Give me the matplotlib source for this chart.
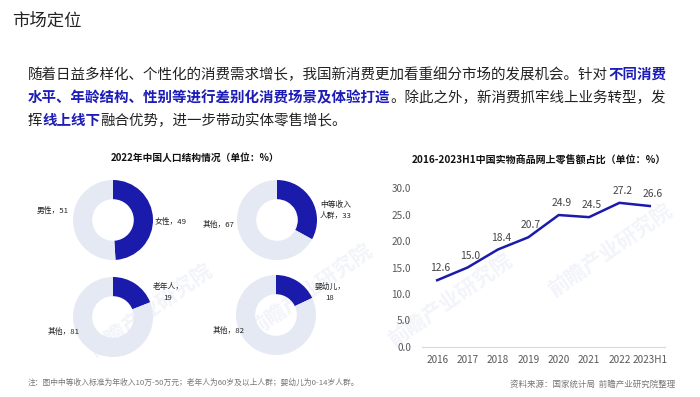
import matplotlib
matplotlib.use("Agg")
import matplotlib.pyplot as plt

plt.rcParams["font.family"] = ["Noto Sans CJK SC", "DejaVu Sans"]

W, H = 700, 397

# ---- data ----
page_title = "市场定位"
paragraph = [
    [("随着日益多样化、个性化的消费需求增长，我国新消费更加看重细分市场的发展机会。针对", False),
     ("不同消费", True)],
    [("水平、年龄结构、性别等进行差别化消费场景及体验打造", True),
     ("。除此之外，新消费抓牢线上业务转型，发", False)],
    [("挥", False), ("线上线下", True), ("融合优势，进一步带动实体零售增长。", False)],
]

donut_title = "2022年中国人口结构情况（单位：%）"
donut_values = [[49, 51], [33, 67], [19, 81], [18, 82]]
donut_labels = [["女性，49", "男性，51"],
                ["中等收入\n人群，33", "其他，67"],
                ["老年人，\n19", "其他，81"],
                ["婴幼儿，\n18", "其他，82"]]

line_title = "2016-2023H1中国实物商品网上零售额占比（单位：%）"
years = ["2016", "2017", "2018", "2019", "2020", "2021", "2022", "2023H1"]
online_share = [12.6, 15.0, 18.4, 20.7, 24.9, 24.5, 27.2, 26.6]

note = "注：图中中等收入标准为年收入10万-50万元；老年人为60岁及以上人群；婴幼儿为0-14岁人群。"
source = "资料来源：国家统计局  前瞻产业研究院整理"

BLUE = "#1b1bab"
LIGHT = "#e5e9f3"
TEXT_BLUE = "#1c1cb8"


def fx(x):
    return x / W


def fy(y):
    return 1 - y / H


fig = plt.figure(figsize=(7, 3.97), dpi=100)
fig.patch.set_facecolor("white")
renderer = fig.canvas.get_renderer()

# faint watermarks, kept behind the charts
for (wx, wy, rot) in [(150, 310, 35), (310, 290, 35), (450, 300, 35), (610, 250, 35)]:
    fig.text(fx(wx), fy(wy), "前瞻产业研究院", fontsize=15, color="#f2f4f9",
             rotation=rot, ha="center", va="center", weight="bold", zorder=-5)

fig.text(fx(12), fy(21), page_title, fontsize=12.5, color="#222222", va="center")

# paragraph with highlighted segments
line_y = [75, 98, 121]
for segments, y in zip(paragraph, line_y):
    x = 28
    for seg, strong in segments:
        t = fig.text(fx(x), fy(y), seg, fontsize=10.45, va="center",
                     color=TEXT_BLUE if strong else "#222222",
                     weight="bold" if strong else "normal")
        bb = t.get_window_extent(renderer)
        x = bb.x1

# ---- donuts ----
fig.text(fx(195), fy(158), donut_title, fontsize=7, weight="bold",
         ha="center", va="center", color="#111111")

centers = [(113, 220), (277, 220), (113, 317), (276, 315)]
radius_px = 40
label_pos = [
    [((155, 222), "left"), ((69, 211), "right")],
    [((320, 210), "left"), ((235, 225), "right")],
    [((168, 293), "center"), ((80, 332), "right")],
    [((330, 292), "center"), ((245, 331), "right")],
]
for (cx, cy), vals, labs, lpos in zip(centers, donut_values, donut_labels, label_pos):
    side = radius_px * 2.5
    ax = fig.add_axes([fx(cx - side / 2), fy(cy + side / 2), side / W, side / H])
    ax.pie(vals, colors=[BLUE, LIGHT], startangle=90, counterclock=False,
           wedgeprops=dict(width=0.48, edgecolor="none"))
    ax.set_xlim(-1.25, 1.25)
    ax.set_ylim(-1.25, 1.25)
    ax.set_aspect("equal")
    ax.axis("off")
    for lab, ((lx, ly), ha) in zip(labs, lpos):
        fig.text(fx(lx), fy(ly), lab, fontsize=5.6, ha=ha, va="center",
                 color="#222222", linespacing=1.5, multialignment=ha)

# ---- line chart ----
fig.text(fx(539), fy(160), line_title, fontsize=7.2, weight="bold",
         ha="center", va="center", color="#111111")

ax = fig.add_axes([fx(422), fy(347), 243 / W, 159 / H])
x = range(len(years))
ax.plot(x, online_share, color=BLUE, lw=1.8, solid_joinstyle="round")
for i, v in zip(x, online_share):
    ax.annotate(f"{v:.1f}", (i, v), xytext=(2, 8.5), textcoords="offset points",
                ha="center", va="center", fontsize=7.4, color="#444444")
ax.set_xlim(-0.5, len(years) - 0.5)
ax.set_ylim(0, 30)
ax.set_yticks([0, 5, 10, 15, 20, 25, 30])
ax.set_yticklabels([f"{t:.1f}" for t in [0, 5, 10, 15, 20, 25, 30]])
ax.set_xticks(list(x))
ax.set_xticklabels(years)
ax.tick_params(length=0, labelsize=7.2, labelcolor="#595959")
ax.tick_params(axis="y", pad=8)
ax.tick_params(axis="x", pad=6)
for s in ["top", "right", "left"]:
    ax.spines[s].set_visible(False)
ax.spines["bottom"].set_color("#d9d9d9")
ax.spines["bottom"].set_linewidth(0.8)
ax.patch.set_alpha(0)

# ---- footer ----
fig.text(fx(28), fy(383), note, fontsize=5.6, color="#777777", va="center")
fig.text(fx(675), fy(384), source, fontsize=6.1, color="#777777", va="center", ha="right")

fig.savefig("out.png", dpi=100)
